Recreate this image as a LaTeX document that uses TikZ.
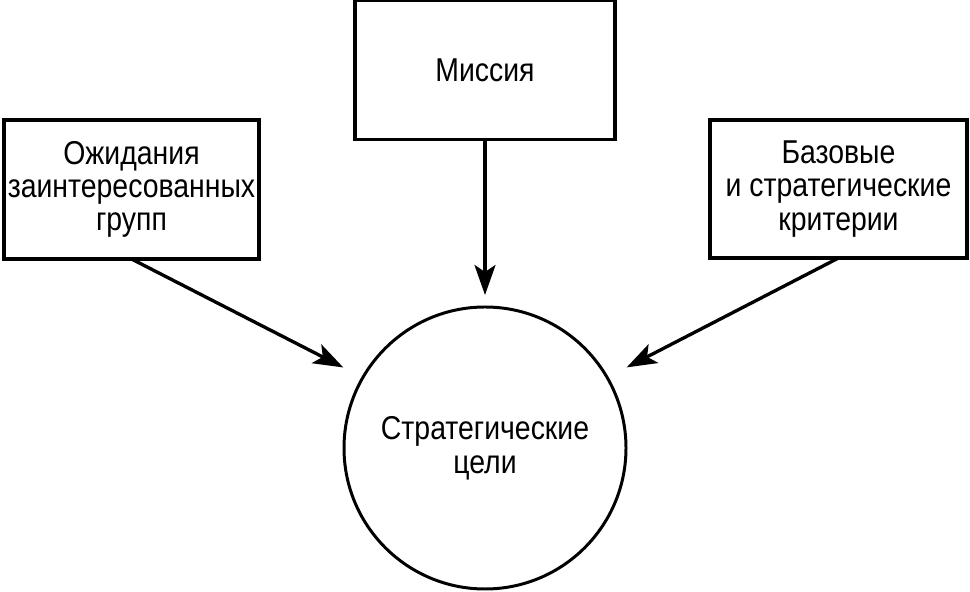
\documentclass[tikz,border=0pt]{standalone}
\usepackage{fontspec}
\setmainfont{Liberation Sans}[FakeStretch=0.86]
\usetikzlibrary{arrows.meta}

\tikzset{
  box/.style={shape=rectangle, draw=black, line width=2pt, align=center, inner sep=0pt, outer sep=0pt,
    font=\fontsize{18.8}{19}\selectfont},
  goal/.style={shape=circle, draw=black, line width=1.7pt, align=center, inner sep=0pt, outer sep=0pt,
    minimum size=5.64cm, font=\fontsize{18.8}{19.5}\selectfont},
  arr/.style={line width=1.9pt, -{Stealth[length=0.6cm, width=0.42cm, inset=0.14cm]}}
}

\begin{document}
\begin{tikzpicture}
\useasboundingbox (0,0) rectangle (19.4,11.84);

\node[box, minimum width=5.2cm, minimum height=2.78cm](missia) at (9.70,10.44) {Миссия};
\node[box, minimum width=5.1cm, minimum height=2.78cm](ozhid) at (2.63,8.05) {Ожидания\\заинтересованных\\групп};
\node[box, minimum width=5.14cm, minimum height=2.76cm](baza) at (16.77,8.06) {Базовые\\и стратегические\\критерии};
\node[goal](celi) at (9.70,2.88) {Стратегические\\цели};

\path[arr, shorten >=0.24cm] (missia) edge (celi.north);
\path[arr, shorten >=0.44cm] (ozhid.south) edge (celi.150);
\path[arr, shorten >=0.44cm] (baza.south) edge (celi.30);
\end{tikzpicture}
\end{document}
